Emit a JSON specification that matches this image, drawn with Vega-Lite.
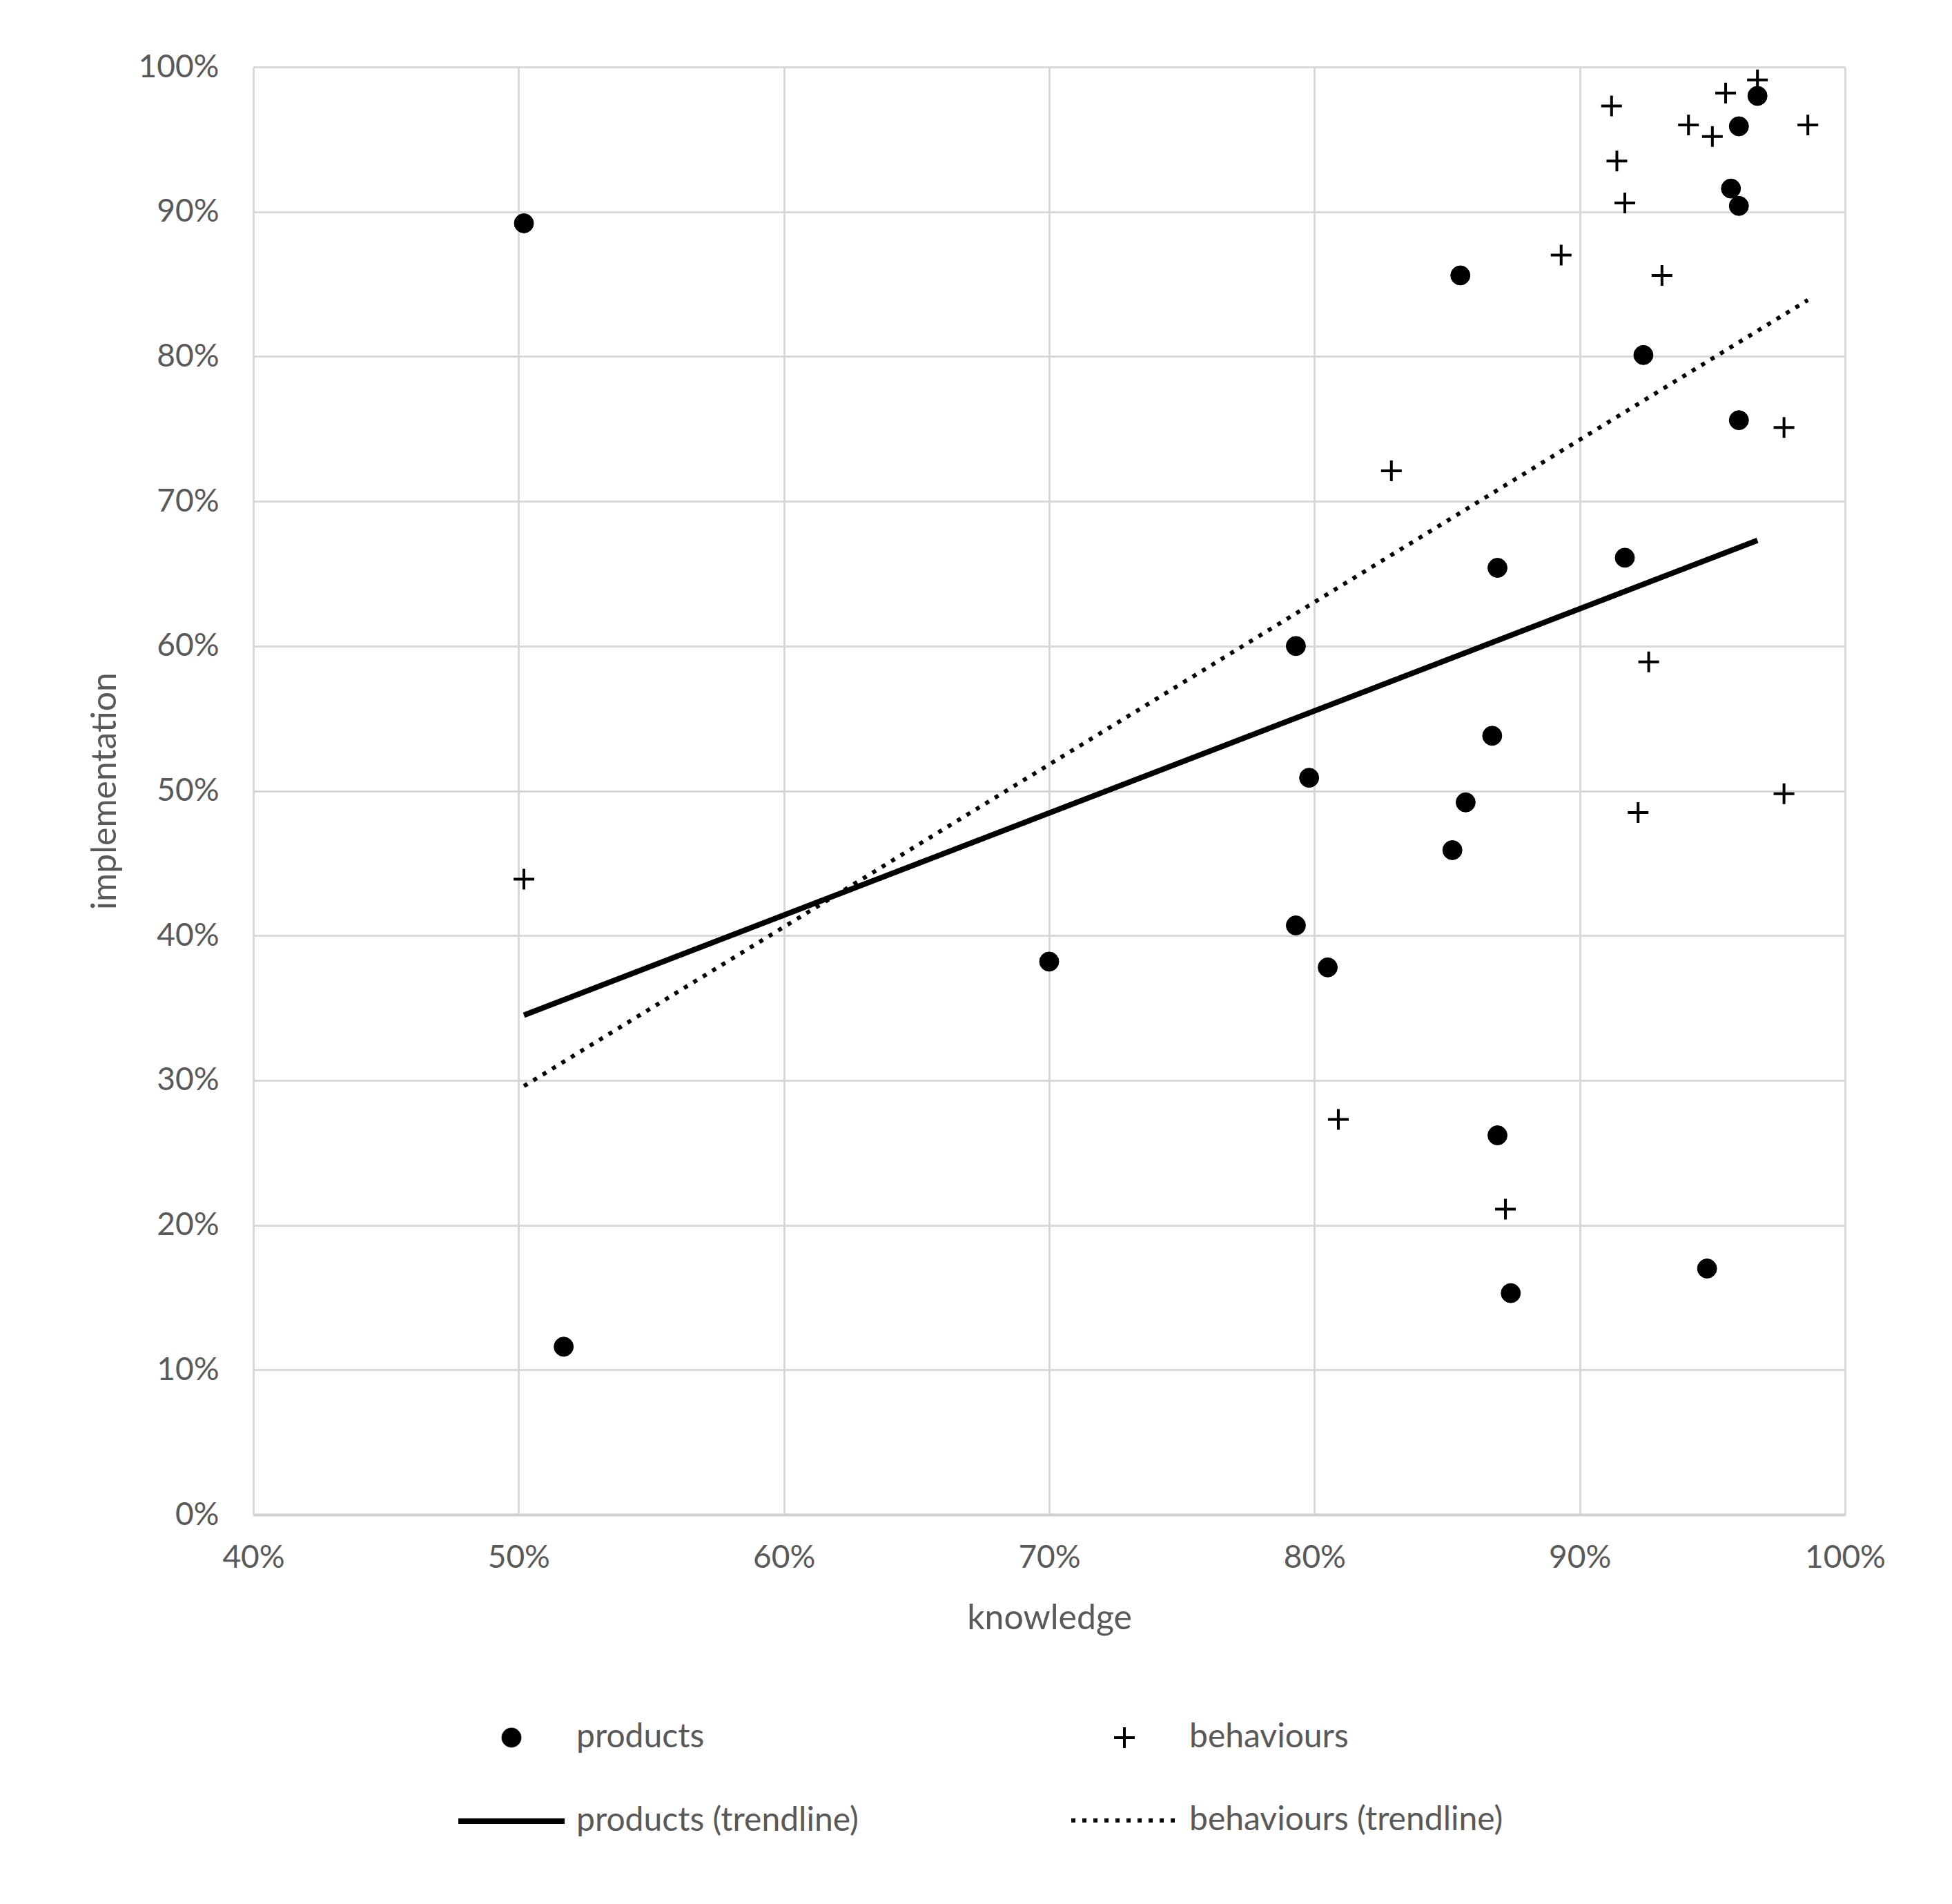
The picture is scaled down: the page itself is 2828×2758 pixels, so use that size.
{
  "$schema": "https://vega.github.io/schema/vega-lite/v6.json",
  "width": 2306,
  "height": 2097,
  "autosize": {"type": "none"},
  "padding": {"left": 367, "top": 97, "right": 155, "bottom": 564},
  "background": "white",
  "config": {
    "font": "Lato",
    "view": {"stroke": null},
    "axis": {
      "labelColor": "#595959",
      "titleColor": "#595959",
      "labelFont": "Lato",
      "titleFont": "Lato",
      "labelFontSize": 46,
      "titleFontSize": 50,
      "titleFontWeight": "normal",
      "gridColor": "#d9d9d9",
      "gridWidth": 3,
      "ticks": false,
      "labelFlush": false,
      "domainColor": "#d9d9d9",
      "domainWidth": 3
    },
    "legend": {
      "labelFont": "Lato",
      "labelFontSize": 48,
      "labelColor": "#595959",
      "labelLimit": 0
    }
  },
  "datasets": {
    "points": [
      {"series": "products", "knowledge": 0.502, "implementation": 0.892},
      {"series": "products", "knowledge": 0.517, "implementation": 0.116},
      {"series": "products", "knowledge": 0.700, "implementation": 0.382},
      {"series": "products", "knowledge": 0.793, "implementation": 0.600},
      {"series": "products", "knowledge": 0.798, "implementation": 0.509},
      {"series": "products", "knowledge": 0.793, "implementation": 0.407},
      {"series": "products", "knowledge": 0.805, "implementation": 0.378},
      {"series": "products", "knowledge": 0.855, "implementation": 0.856},
      {"series": "products", "knowledge": 0.869, "implementation": 0.654},
      {"series": "products", "knowledge": 0.867, "implementation": 0.538},
      {"series": "products", "knowledge": 0.857, "implementation": 0.492},
      {"series": "products", "knowledge": 0.852, "implementation": 0.459},
      {"series": "products", "knowledge": 0.869, "implementation": 0.262},
      {"series": "products", "knowledge": 0.874, "implementation": 0.153},
      {"series": "products", "knowledge": 0.917, "implementation": 0.661},
      {"series": "products", "knowledge": 0.924, "implementation": 0.801},
      {"series": "products", "knowledge": 0.948, "implementation": 0.170},
      {"series": "products", "knowledge": 0.960, "implementation": 0.756},
      {"series": "products", "knowledge": 0.957, "implementation": 0.916},
      {"series": "products", "knowledge": 0.960, "implementation": 0.904},
      {"series": "products", "knowledge": 0.960, "implementation": 0.959},
      {"series": "products", "knowledge": 0.967, "implementation": 0.980},
      {"series": "behaviours", "knowledge": 0.502, "implementation": 0.439},
      {"series": "behaviours", "knowledge": 0.809, "implementation": 0.273},
      {"series": "behaviours", "knowledge": 0.829, "implementation": 0.721},
      {"series": "behaviours", "knowledge": 0.872, "implementation": 0.211},
      {"series": "behaviours", "knowledge": 0.893, "implementation": 0.870},
      {"series": "behaviours", "knowledge": 0.912, "implementation": 0.973},
      {"series": "behaviours", "knowledge": 0.914, "implementation": 0.935},
      {"series": "behaviours", "knowledge": 0.917, "implementation": 0.906},
      {"series": "behaviours", "knowledge": 0.922, "implementation": 0.485},
      {"series": "behaviours", "knowledge": 0.926, "implementation": 0.589},
      {"series": "behaviours", "knowledge": 0.931, "implementation": 0.856},
      {"series": "behaviours", "knowledge": 0.941, "implementation": 0.960},
      {"series": "behaviours", "knowledge": 0.950, "implementation": 0.952},
      {"series": "behaviours", "knowledge": 0.955, "implementation": 0.982},
      {"series": "behaviours", "knowledge": 0.967, "implementation": 0.991},
      {"series": "behaviours", "knowledge": 0.977, "implementation": 0.751},
      {"series": "behaviours", "knowledge": 0.977, "implementation": 0.498},
      {"series": "behaviours", "knowledge": 0.986, "implementation": 0.960}
    ],
    "trend": [
      {"series": "products (trendline)", "knowledge": 0.502, "implementation": 0.345},
      {"series": "products (trendline)", "knowledge": 0.967, "implementation": 0.673},
      {"series": "behaviours (trendline)", "knowledge": 0.502, "implementation": 0.296},
      {"series": "behaviours (trendline)", "knowledge": 0.986, "implementation": 0.839}
    ]
  },
  "layer": [
    {
      "data": {"name": "points"},
      "mark": {"type": "point", "filled": true, "stroke": "black", "opacity": 1},
      "encoding": {
        "x": {
          "field": "knowledge", "type": "quantitative",
          "scale": {"domain": [0.4, 1.0], "zero": false, "nice": false},
          "axis": {"title": "knowledge", "format": ".0%", "values": [0.4, 0.5, 0.6, 0.7, 0.8, 0.9, 1.0], "labelPadding": 40, "titlePadding": 40, "domainColor": "#d0d0d0", "domainWidth": 4}
        },
        "y": {
          "field": "implementation", "type": "quantitative",
          "scale": {"domain": [0, 1], "nice": false},
          "axis": {"title": "implementation", "format": ".0%", "values": [0, 0.1, 0.2, 0.3, 0.4, 0.5, 0.6, 0.7, 0.8, 0.9, 1.0], "labelPadding": 50, "titlePadding": 23}
        },
        "shape": {
          "field": "series", "type": "nominal",
          "scale": {"domain": ["products", "behaviours", "products (trendline)", "behaviours (trendline)"], "range": ["circle", "M-1,0L1,0M0,-1L0,1", "stroke", "stroke"]},
          "legend": {
            "title": null, "orient": "none", "legendX": 293, "legendY": 2396,
            "direction": "horizontal", "columns": 2, "columnPadding": 296, "rowPadding": 16,
            "labelOffset": 13, "labelLimit": 0,
            "encode": {"symbols": {"update": {"stroke": {"value": "black"}, "opacity": {"value": 1}}}}
          }
        },
        "fill": {
          "field": "series", "type": "nominal",
          "scale": {"domain": ["products", "behaviours", "products (trendline)", "behaviours (trendline)"], "range": ["black", "transparent", "transparent", "transparent"]},
          "legend": {"title": null}
        },
        "size": {
          "field": "series", "type": "nominal",
          "scale": {"type": "ordinal", "domain": ["products", "behaviours", "products (trendline)", "behaviours (trendline)"], "range": [780, 900, 23716, 23716]},
          "legend": {"title": null}
        },
        "strokeWidth": {
          "field": "series", "type": "nominal",
          "scale": {"type": "ordinal", "domain": ["products", "behaviours", "products (trendline)", "behaviours (trendline)"], "range": [1, 4, 8, 6]},
          "legend": {"title": null}
        }
      }
    },
    {
      "data": {"name": "trend"},
      "mark": {"type": "line", "color": "black", "strokeCap": "butt"},
      "encoding": {
        "x": {"field": "knowledge", "type": "quantitative"},
        "y": {"field": "implementation", "type": "quantitative"},
        "detail": {"field": "series", "type": "nominal"},
        "strokeDash": {
          "field": "series", "type": "nominal",
          "scale": {"type": "ordinal", "domain": ["products", "behaviours", "products (trendline)", "behaviours (trendline)"], "range": [[1, 0], [1, 0], [1, 0], [6, 10]]},
          "legend": {"title": null}
        },
        "strokeWidth": {
          "field": "series", "type": "nominal",
          "scale": {"type": "ordinal", "domain": ["products", "behaviours", "products (trendline)", "behaviours (trendline)"], "range": [1, 4, 8, 6]},
          "legend": {"title": null}
        }
      }
    }
  ]
}
